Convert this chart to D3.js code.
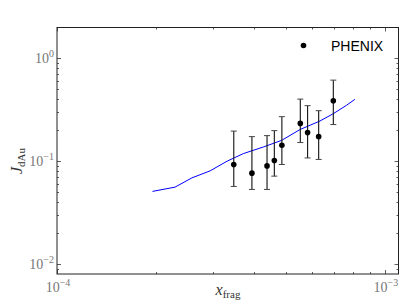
<!DOCTYPE html>
<html><head><meta charset="utf-8">
<script src="https://cdn.jsdelivr.net/npm/d3@7"></script>
<style>html,body{margin:0;padding:0;background:#fff;}</style>
</head><body>
<svg id="chart" width="407" height="305"></svg>
<script>
// Data
const phenixX = [3.46e-4, 3.93e-4, 4.37e-4, 4.60e-4, 4.85e-4, 5.52e-4, 5.81e-4, 6.28e-4, 6.96e-4];
const phenixY = [0.0933, 0.0769, 0.0904, 0.102, 0.1435, 0.234, 0.1905, 0.174, 0.389];
const phenixHi = [0.197, 0.174, 0.178, 0.199, 0.272, 0.403, 0.348, 0.311, 0.616];
const phenixLo = [0.0571, 0.0534, 0.0534, 0.0719, 0.0933, 0.1525, 0.108, 0.1045, 0.228];
const theoryX = [1.955e-4, 2.29e-4, 2.58e-4, 2.93e-4, 3.30e-4, 3.70e-4, 4.26e-4, 4.84e-4, 5.51e-4, 6.34e-4, 6.96e-4, 7.64e-4, 8.10e-4];
const theoryY = [0.0511, 0.0562, 0.0692, 0.0809, 0.1004, 0.119, 0.138, 0.160, 0.204, 0.247, 0.291, 0.351, 0.401];
const xMajor = [1e-4, 1e-3];
const yMajor = [1e-2, 1e-1, 1e0];
const xLabels = ["\u22124", "\u22123"];
const yLabels = ["\u22122", "\u22121", "0"];

const svg = d3.select("#chart");
const L = 57, R = 398.5, T = 27.5, B = 274;
const x = d3.scaleLog().domain([1e-4, 1.1e-3]).range([L, R]);
const y = d3.scaleLog().domain([0.00805, 2.0]).range([B, T]);

const g = svg.append("g");

// minor ticks
const xMinor = [];
for (let d = -4; d <= -3; d++) for (let m = 2; m <= 9; m++) { const v = m * Math.pow(10, d); if (v > 1e-4 && v < 1.1e-3) xMinor.push(v); }
const yMinor = [];
for (let d = -3; d <= 0; d++) for (let m = 2; m <= 9; m++) { const v = m * Math.pow(10, d); if (v > 0.00805 && v < 2.0) yMinor.push(v); }

const tickColor = "#333";
function xt(vals, len) {
  vals.forEach(v => {
    const px = Math.round(x(v)) + 0.5;
    g.append("line").attr("x1", px).attr("x2", px).attr("y1", B).attr("y2", B - len).attr("stroke", tickColor).attr("stroke-width", 0.8);
    g.append("line").attr("x1", px).attr("x2", px).attr("y1", T).attr("y2", T + len).attr("stroke", tickColor).attr("stroke-width", 0.8);
  });
}
function yt(vals, len) {
  vals.forEach(v => {
    const py = Math.round(y(v)) + 0.5;
    g.append("line").attr("x1", L).attr("x2", L + len).attr("y1", py).attr("y2", py).attr("stroke", tickColor).attr("stroke-width", 0.8);
    g.append("line").attr("x1", R).attr("x2", R - len).attr("y1", py).attr("y2", py).attr("stroke", tickColor).attr("stroke-width", 0.8);
  });
}
xt(xMajor, 4); xt(xMinor, 2);
yt(yMajor, 4); yt(yMinor, 2);

// theory line
const line = d3.line().x((d, i) => x(theoryX[i])).y((d, i) => y(theoryY[i]));
g.append("path").datum(theoryY).attr("d", line).attr("fill", "none").attr("stroke", "#0000ff").attr("stroke-width", 1);

// error bars
phenixX.forEach((xv, i) => {
  const px = x(xv);
  g.append("line").attr("x1", px).attr("x2", px).attr("y1", y(phenixHi[i])).attr("y2", y(phenixLo[i])).attr("stroke", "#111").attr("stroke-width", 1.1);
  [phenixHi[i], phenixLo[i]].forEach(v => {
    g.append("line").attr("x1", px - 3).attr("x2", px + 3).attr("y1", y(v)).attr("y2", y(v)).attr("stroke", "#444").attr("stroke-width", 1);
  });
});
g.selectAll("circle.pt").data(phenixX).enter().append("circle")
  .attr("cx", d => x(d)).attr("cy", (d, i) => y(phenixY[i])).attr("r", 2.8).attr("fill", "#000");

// frame
g.append("rect").attr("x", L).attr("y", T).attr("width", R - L).attr("height", B - T)
  .attr("fill", "none").attr("stroke", "#222").attr("stroke-width", 1);

// tick labels
const serif = "'Liberation Serif', 'DejaVu Serif', serif";
const labColor = "#777";
xMajor.forEach((v, i) => {
  const t = svg.append("text").attr("x", x(v) + 1).attr("y", B + 18).attr("text-anchor", "middle")
    .attr("font-family", serif).attr("font-size", 14).attr("fill", labColor);
  t.append("tspan").text("10");
  t.append("tspan").attr("dy", -6).attr("font-size", 10).text(xLabels[i]);
});
yMajor.forEach((v, i) => {
  const t = svg.append("text").attr("x", L - 3).attr("y", y(v) + 5).attr("text-anchor", "end")
    .attr("font-family", serif).attr("font-size", 14).attr("fill", labColor);
  t.append("tspan").text("10");
  t.append("tspan").attr("dy", -6).attr("font-size", 10).text(yLabels[i]);
});

// axis labels
const xl = svg.append("text").attr("x", 228).attr("y", 295).attr("text-anchor", "middle").attr("font-family", serif).attr("font-size", 16).attr("fill", "#333");
xl.append("tspan").attr("font-style", "italic").text("x");
xl.append("tspan").attr("dy", 3).attr("font-size", 11).text("frag");
const yl = svg.append("text").attr("transform", "translate(22,161) rotate(-90)").attr("text-anchor", "middle").attr("font-family", serif).attr("font-size", 16).attr("fill", "#333");
yl.append("tspan").attr("font-style", "italic").text("J");
yl.append("tspan").attr("dy", 3).attr("font-size", 11).text("dAu");

// legend
svg.append("circle").attr("cx", 303.5).attr("cy", 45.5).attr("r", 2.8).attr("fill", "#000");
svg.append("text").attr("x", 331).attr("y", 51).attr("font-family", "'Liberation Sans', Arial, sans-serif").attr("font-size", 14).attr("fill", "#000").text("PHENIX");
</script>
</body></html>
